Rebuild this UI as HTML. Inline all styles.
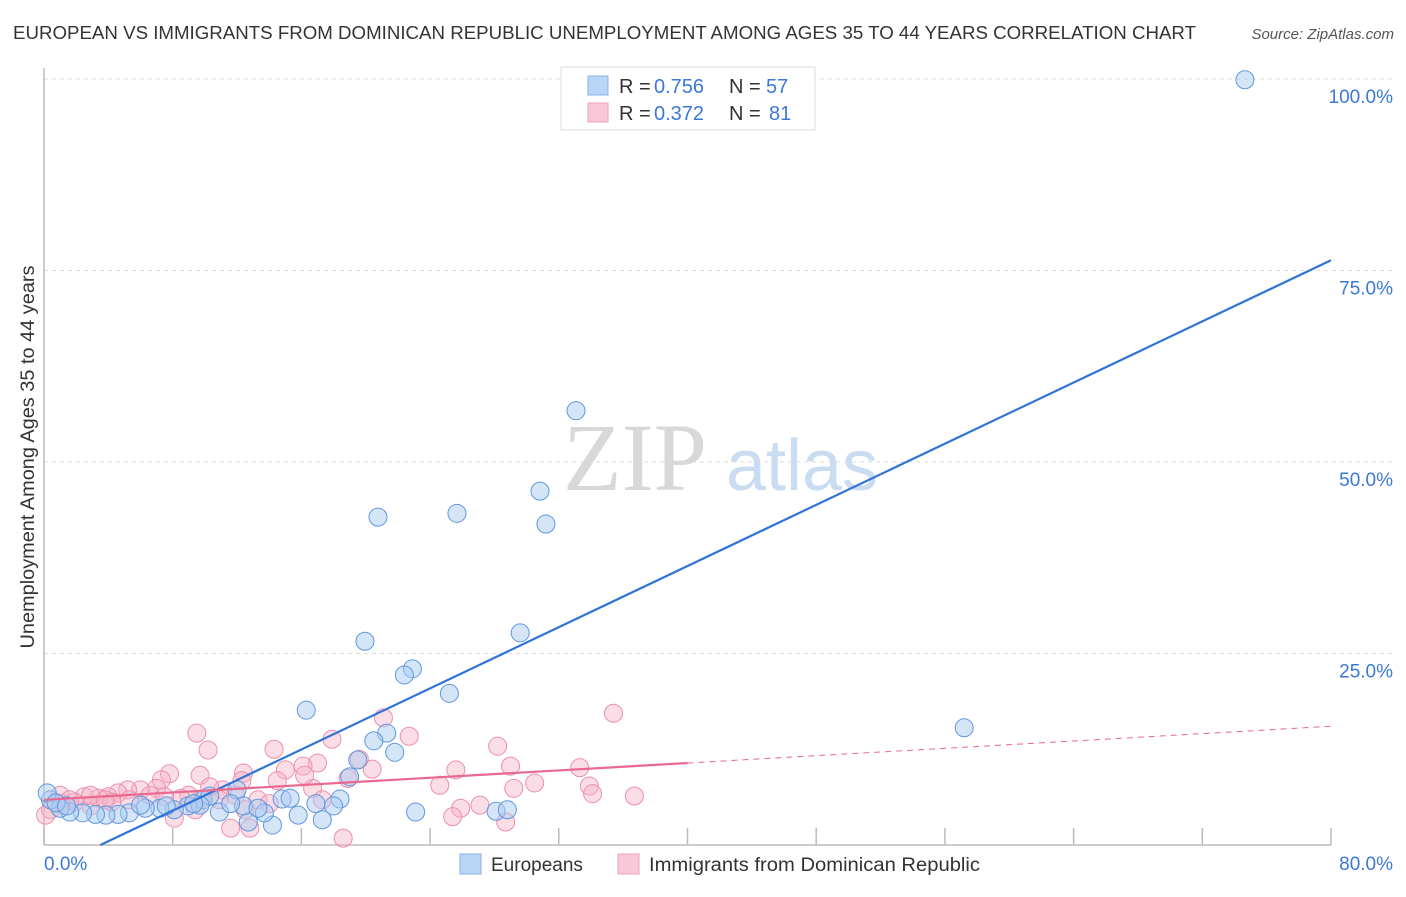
<!DOCTYPE html>
<html><head><meta charset="utf-8"><style>
body{margin:0;background:#fff;font-family:"Liberation Sans",sans-serif;}
svg text{font-family:"Liberation Sans",sans-serif;}
</style></head><body>
<svg id="c" width="1406" height="892" viewBox="0 0 1406 892">
<text x="13" y="39" font-size="18" fill="#333" textLength="1183" lengthAdjust="spacingAndGlyphs">EUROPEAN VS IMMIGRANTS FROM DOMINICAN REPUBLIC UNEMPLOYMENT AMONG AGES 35 TO 44 YEARS CORRELATION CHART</text>
<text x="1394" y="39" font-size="15" fill="#555" font-style="italic" text-anchor="end">Source: ZipAtlas.com</text>
<g>
<text x="635" y="490" font-size="96" fill="#d8d8d8" font-family="Liberation Serif,serif" style="font-family:'Liberation Serif',serif" text-anchor="middle">ZIP</text>
<text x="802" y="490" font-size="72" fill="#c9dcf2" text-anchor="middle">atlas</text>
</g>
<g id="grid"></g><g id="axes"></g><g id="pts"></g><g id="lines"></g>
<text transform="translate(34,457) rotate(-90)" font-size="19" fill="#333" textLength="383" lengthAdjust="spacingAndGlyphs" text-anchor="middle">Unemployment Among Ages 35 to 44 years</text>
<text x="44" y="870" font-size="19" fill="#3b78d8">0.0%</text>
<text x="1393" y="870" font-size="19" fill="#3b78d8" text-anchor="end">80.0%</text>
<g>
<rect x="561" y="67" width="254" height="63" fill="#fff" stroke="#ddd"/>
<rect x="588" y="76" width="20" height="19" fill="#bad5f5" stroke="#8ab4ea"/>
<rect x="588" y="103" width="20" height="19" fill="#f9c8d7" stroke="#f0a0bb"/>
<text x="619" y="93" font-size="20" fill="#333">R = </text><text x="654" y="93" font-size="20" fill="#3b78d8">0.756</text>
<text x="729" y="93" font-size="20" fill="#333">N = </text><text x="766" y="93" font-size="20" fill="#3b78d8">57</text>
<text x="619" y="120" font-size="20" fill="#333">R = </text><text x="654" y="120" font-size="20" fill="#3b78d8">0.372</text>
<text x="729" y="120" font-size="20" fill="#333">N = </text><text x="769" y="120" font-size="20" fill="#3b78d8">81</text>
</g>
<g>
<rect x="460" y="854" width="21" height="20" fill="#bad5f5" stroke="#8ab4ea"/>
<text x="491" y="871" font-size="19" fill="#333">Europeans</text>
<text x="649" y="871" font-size="19" fill="#333" textLength="331" lengthAdjust="spacingAndGlyphs">Immigrants from Dominican Republic</text>
<rect x="618" y="854" width="21" height="20" fill="#f9c8d7" stroke="#f0a0bb"/>
</g>
</svg>
<script>
const yTicks=[25,50,75,100];
const yTickLabels=["25.0%","50.0%","75.0%","100.0%"];
const xTicks=[0,8,16,24,32,40,48,56,64,72,80];
const euroX=[74.65,33.07,30.83,25.67,20.76,31.2,29.6,19.95,22.9,22.4,25.2,16.3,57.2,21.3,20.5,21.8,19.5,19.0,12.0,14.8,15.3,18.4,16.9,18.0,23.1,28.1,28.8,15.8,17.3,14.2,12.7,13.7,12.4,13.3,10.9,9.9,8.95,8.1,7.2,6.3,5.3,4.6,3.85,3.2,2.4,1.6,1.0,0.4,0.2,0.75,1.4,10.3,11.6,9.7,7.6,6.0,9.3];
const euroY=[99.9,56.7,46.2,43.3,42.8,41.9,27.7,26.6,23.0,22.2,19.8,17.6,15.3,14.6,13.6,12.1,11.1,8.9,7.2,6.0,6.1,6.0,5.4,5.1,4.3,4.4,4.6,3.9,3.3,2.6,3.0,4.2,5.1,4.8,4.3,5.9,5.1,4.6,4.8,4.8,4.2,4.0,3.9,4.0,4.2,4.3,4.8,5.9,6.8,5.5,5.1,6.4,5.4,5.2,5.1,5.2,5.4];
const immX=[35.4,21.1,9.5,17.9,22.7,28.2,10.2,14.3,19.6,17.0,16.1,15.0,20.4,25.6,29.0,33.3,7.8,9.7,12.4,12.3,14.5,7.3,18.9,24.6,29.2,30.5,33.9,34.1,36.7,16.7,11.9,11.1,10.3,9.0,8.5,7.0,6.0,5.2,4.6,4.0,3.4,2.5,1.9,1.1,0.4,0.1,6.6,7.5,13.3,14.0,17.3,25.9,27.1,25.4,28.7,11.6,12.8,18.6,8.1,9.7,10.9,5.3,4.2,2.9,16.2,12.5,9.4,1.0,1.6,2.9,3.8];
const immY=[17.2,16.6,14.6,13.8,14.2,12.9,12.4,12.5,11.2,10.7,10.3,9.8,9.9,9.8,10.3,10.1,9.3,9.1,9.4,8.4,8.4,8.5,8.7,7.8,7.4,8.1,7.7,6.7,6.4,7.4,6.5,7.2,7.6,6.5,6.1,7.4,7.2,7.2,6.8,6.3,6.1,6.3,5.6,5.4,4.6,3.9,6.5,6.3,5.9,5.4,5.9,4.8,5.2,3.7,3.0,2.2,2.2,0.9,3.5,5.9,5.9,5.9,5.6,5.1,9.1,4.6,4.6,6.5,5.9,6.5,5.9];
const euroFit=[0.998,-3.5];
const immFit=[0.12,5.9];
const X=v=>44+v*16.0875, Y=v=>845-v*7.66;
const NS="http://www.w3.org/2000/svg";
function mk(p,t,a){const e=document.createElementNS(NS,t);for(const k in a)e.setAttribute(k,a[k]);p.appendChild(e);return e;}
const grid=document.getElementById('grid'),axes=document.getElementById('axes'),pts=document.getElementById('pts'),lines=document.getElementById('lines');
yTicks.forEach((t,i)=>{
 const l=mk(grid,'line',{x1:44,x2:1394,y1:Y(t),y2:Y(t),stroke:'#ddd','stroke-dasharray':'4,4'});
 
 
 const tx=mk(grid,'text',{x:1393,y:Y(t)+24,'font-size':19,fill:'#3b78d8','text-anchor':'end'});
 tx.textContent=yTickLabels[i];
 
 
});
const xa=mk(axes,'line',{x1:44,x2:1331,y1:845,y2:845,stroke:'#bbb','stroke-width':1.5});


const ya=mk(axes,'line',{x1:44,x2:44,y1:68,y2:845,stroke:'#bbb','stroke-width':1.5});


xTicks.forEach(t=>{
 const l=mk(axes,'line',{x1:X(t),x2:X(t),y1:828,y2:845,stroke:'#bbb','stroke-width':1.5});
 
 
});
immX.forEach((v,i)=>{
 const c=mk(pts,'circle',{cx:X(v),cy:Y(immY[i]),r:9,fill:'#f7b3c8','fill-opacity':0.45,stroke:'#ec8fae','stroke-width':1});
 
 
});
euroX.forEach((v,i)=>{
 const c=mk(pts,'circle',{cx:X(v),cy:Y(euroY[i]),r:9,fill:'#a9cbf2','fill-opacity':0.5,stroke:'#5f97de','stroke-width':1});
 
 
});
const x0=-euroFit[1]/euroFit[0];
const bl=mk(lines,'line',{x1:X(x0),y1:Y(0),x2:X(80),y2:Y(euroFit[0]*80+euroFit[1]),stroke:'#2f74d6','stroke-width':2.2});


const pl=mk(lines,'line',{x1:X(0),y1:Y(immFit[1]),x2:X(40),y2:Y(immFit[0]*40+immFit[1]),stroke:'#e8688f','stroke-width':2.2});


const pd=mk(lines,'line',{x1:X(40),y1:Y(immFit[0]*40+immFit[1]),x2:X(80),y2:Y(immFit[0]*80+immFit[1]),stroke:'#e8688f','stroke-width':1,'stroke-dasharray':'6,5'});


</script>
</body></html>
